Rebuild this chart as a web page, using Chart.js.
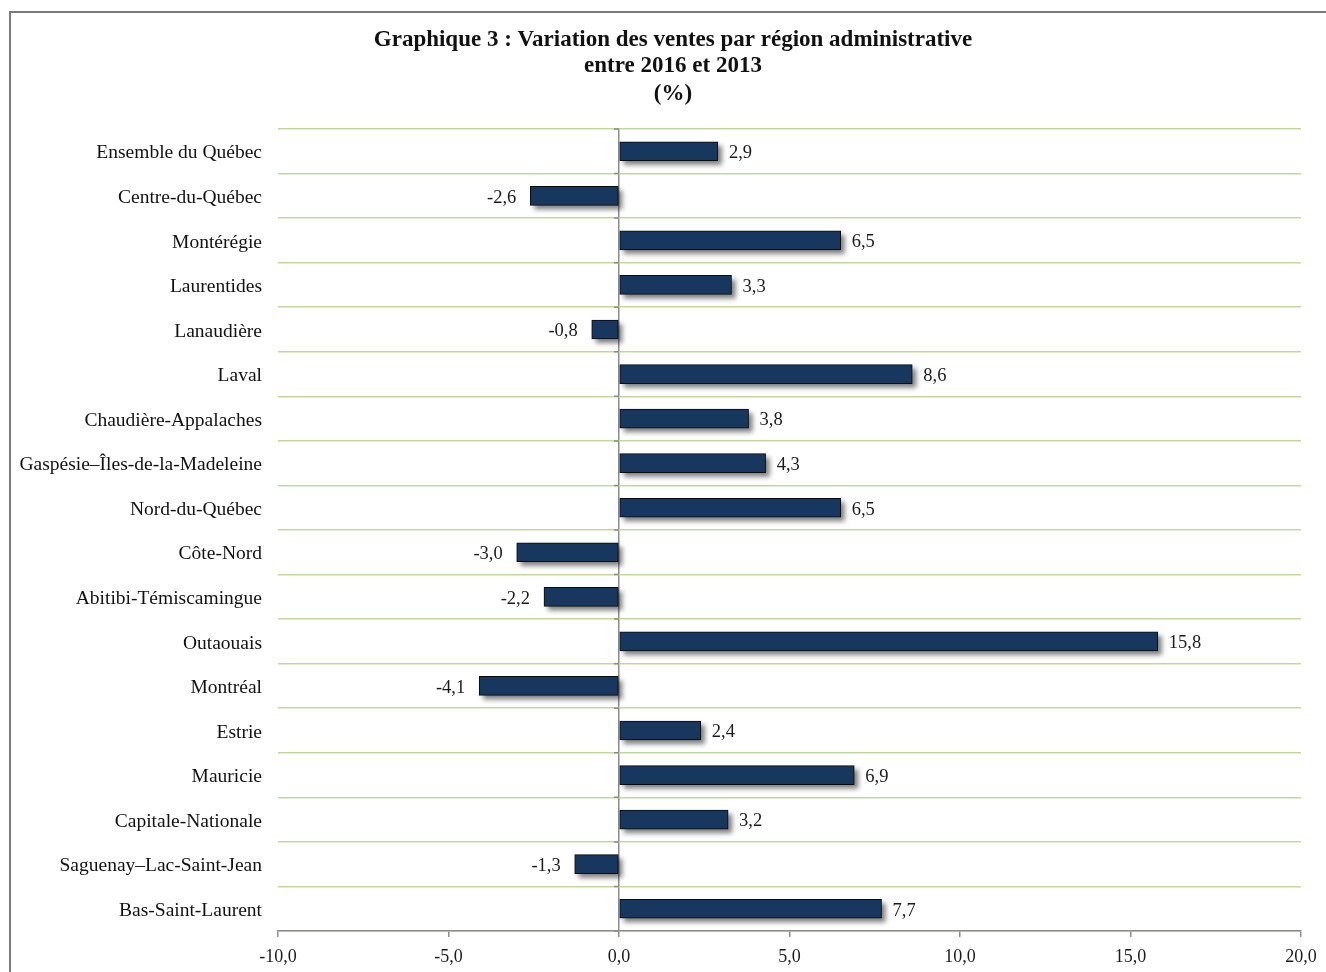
<!DOCTYPE html>
<html>
<head>
<meta charset="utf-8">
<script src="https://cdn.jsdelivr.net/npm/chart.js@4/dist/chart.umd.min.js"></script>
<style>
  html, body { margin: 0; padding: 0; background: #fff; overflow: hidden; }
  #frame { position: absolute; left: 9px; top: 11px; width: 1400px; height: 1000px;
           border-left: 2px solid #7a7a7a; border-top: 2px solid #7a7a7a; }
  #chart { position: absolute; left: 0; top: 0; }
</style>
</head>
<body>
<div id="frame"></div>
<canvas id="chart" width="1326" height="972"></canvas>
<script>
// data, top to bottom
const regions = [
  'Ensemble du Québec', 'Centre-du-Québec', 'Montérégie', 'Laurentides', 'Lanaudière',
  'Laval', 'Chaudière-Appalaches', 'Gaspésie–Îles-de-la-Madeleine', 'Nord-du-Québec',
  'Côte-Nord', 'Abitibi-Témiscamingue', 'Outaouais', 'Montréal', 'Estrie', 'Mauricie',
  'Capitale-Nationale', 'Saguenay–Lac-Saint-Jean', 'Bas-Saint-Laurent'
];
const variation = [2.9, -2.6, 6.5, 3.3, -0.8, 8.6, 3.8, 4.3, 6.5, -3.0, -2.2, 15.8, -4.1, 2.4, 6.9, 3.2, -1.3, 7.7];
const titleLines = ['Graphique 3 : Variation des ventes par région administrative', 'entre 2016 et 2013', '(%)'];
const xTicks = [-10, -5, 0, 5, 10, 15, 20];

const SERIF = '"Liberation Serif", "Times New Roman", serif';
const fmt = v => v.toFixed(1).replace('.', ',');

// title drawn centred on the page rather than the chart box
const titlePlugin = {
  id: 'pageTitle',
  afterDraw(chart) {
    const ctx = chart.ctx;
    ctx.save();
    ctx.font = 'bold 23px ' + SERIF;
    ctx.fillStyle = '#111';
    ctx.textAlign = 'center';
    ctx.textBaseline = 'middle';
    const ys = [40, 66, 94];
    titleLines.forEach((t, i) => ctx.fillText(t, 673, ys[i]));
    ctx.restore();
  }
};

// soft shadow under each bar, plus the little ticks on the zero line
const shadowPlugin = {
  id: 'barShadow',
  beforeDatasetsDraw(chart) {
    const ctx = chart.ctx;
    const meta = chart.getDatasetMeta(0);
    ctx.save();
    ctx.filter = 'blur(2.5px)';
    ctx.fillStyle = 'rgba(0,0,0,0.5)';
    meta.data.forEach(bar => {
      const p = bar.getProps(['x', 'y', 'base', 'height']);
      const left = Math.min(p.x, p.base);
      ctx.fillRect(left + 4, p.y - p.height / 2 + 4, Math.abs(p.x - p.base), p.height);
    });
    ctx.restore();

    const y = chart.scales.y;
    const x0 = chart.scales.x.getPixelForValue(0);
    const step = y.getPixelForTick(1) - y.getPixelForTick(0);
    ctx.save();
    ctx.strokeStyle = '#8c8c8c';
    ctx.lineWidth = 1.5;
    ctx.beginPath();
    for (let i = 0; i <= regions.length; i++) {
      const py = y.getPixelForTick(0) - step / 2 + i * step;
      ctx.moveTo(x0 - 5, py);
      ctx.lineTo(x0, py);
    }
    ctx.stroke();
    ctx.restore();
  }
};

// value labels at the end of each bar
const valueLabels = {
  id: 'valueLabels',
  afterDatasetsDraw(chart) {
    const ctx = chart.ctx;
    const meta = chart.getDatasetMeta(0);
    ctx.save();
    ctx.font = '18.5px ' + SERIF;
    ctx.fillStyle = '#1b1b1b';
    ctx.textBaseline = 'middle';
    meta.data.forEach((bar, i) => {
      const v = variation[i];
      if (v >= 0) {
        ctx.textAlign = 'left';
        ctx.fillText(fmt(v), bar.x + 11, bar.y + 2);
      } else {
        ctx.textAlign = 'right';
        ctx.fillText(fmt(v), bar.x - 14, bar.y + 2);
      }
    });
    ctx.restore();
  }
};

new Chart(document.getElementById('chart'), {
  type: 'bar',
  data: {
    labels: regions,
    datasets: [{
      data: variation,
      backgroundColor: '#17375e',
      borderColor: '#0a0a0a',
      borderWidth: 1,
      borderSkipped: false,
      barThickness: 19
    }]
  },
  options: {
    indexAxis: 'y',
    responsive: false,
    animation: false,
    devicePixelRatio: 1,
    layout: { padding: { top: 129, left: 0, right: 25, bottom: 0 } },
    plugins: {
      legend: { display: false },
      title: { display: false },
      tooltip: { enabled: false }
    },
    scales: {
      x: {
        min: -10,
        max: 20,
        afterBuildTicks(scale) {
          scale.ticks = xTicks.map(v => ({ value: v }));
        },
        afterFit(scale) {
          scale.height = 41;
          scale.paddingLeft = 0;
          scale.paddingRight = 0;
        },
        grid: {
          color: c => (c.tick && c.tick.value === 0 ? '#8c8c8c' : 'rgba(0,0,0,0)'),
          tickColor: '#8c8c8c',
          tickLength: 6,
          lineWidth: 1.5
        },
        border: { color: '#8c8c8c', width: 1.5 },
        ticks: {
          padding: 9,
          color: '#1b1b1b',
          font: { family: SERIF, size: 18 },
          maxRotation: 0,
          callback: v => fmt(v)
        }
      },
      y: {
        afterFit(scale) {
          scale.width = 278;
        },
        grid: {
          offset: true,
          color: '#c4d79b',
          lineWidth: 1.5,
          drawTicks: false
        },
        border: { display: false },
        ticks: {
          padding: 16,
          labelOffset: 2,
          color: '#111',
          font: { family: SERIF, size: 19.5 }
        }
      }
    }
  },
  plugins: [titlePlugin, shadowPlugin, valueLabels]
});
</script>
</body>
</html>
